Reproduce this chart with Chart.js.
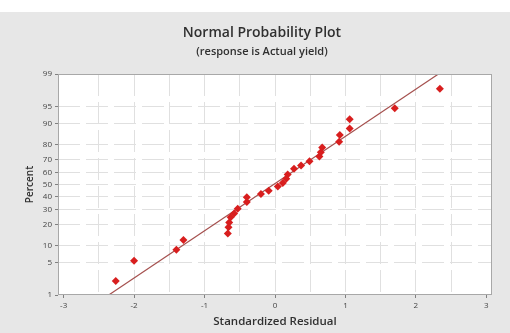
<!DOCTYPE html>
<html>
<head>
<meta charset="utf-8">
<script src="https://cdn.jsdelivr.net/npm/chart.js@4"></script>
<style>
  html, body { margin: 0; padding: 0; background: #ffffff; }
  #wrap { width: 510px; height: 333px; }
</style>
</head>
<body>
<div id="wrap"><canvas id="npp" width="510" height="333"></canvas></div>
<script>
// residuals (x) and plotted percent (y)
const residuals = [-2.26, -2.00, -1.40, -1.30, -0.67, -0.66, -0.65, -0.63, -0.58, -0.53,
                   -0.40, -0.40, -0.20, -0.09, 0.04, 0.11, 0.16, 0.18, 0.27, 0.37,
                   0.49, 0.63, 0.65, 0.67, 0.91, 0.92, 1.06, 1.06, 1.70, 2.34];
const percents = [2.1, 5.4, 8.5, 12.1, 15.1, 18.4, 21.2, 24.5, 27.1, 30.5,
                  35.6, 39.4, 42.1, 44.8, 48.4, 51.2, 54.8, 58.3, 62.9, 65.5,
                  68.8, 72.2, 75.2, 78.2, 81.6, 85.1, 88.1, 91.5, 94.6, 97.8];
// fitted reference line ends
const fitResiduals = [-2.36, 2.32];
const fitPercents = [1, 99];
// axis ticks
const percentTicks = [1, 5, 10, 20, 30, 40, 50, 60, 70, 80, 90, 95, 99];
const residualTicks = [-3, -2.5, -2, -1.5, -1, -0.5, 0, 0.5, 1, 1.5, 2, 2.5, 3];

// inverse normal cdf (Acklam), percent -> z
function zOf(pct) {
    const p = pct / 100;
    const a = [-39.69683028665376, 220.9460984245205, -275.9285104469687, 138.3577518672690, -30.66479806614716, 2.506628277459239];
    const b = [-54.47609879822406, 161.5858368580409, -155.6989798598866, 66.80131188771972, -13.28068155288572];
    const c = [-0.007784894002430293, -0.3223964580411365, -2.400758277161838, -2.549732539343734, 4.374664141464968, 2.938163982698783];
    const d = [0.007784695709041462, 0.3224671290700398, 2.445134137142996, 3.754408661907416];
    const pl = 0.02425;
    let q, r;
    if (p < pl) {
        q = Math.sqrt(-2 * Math.log(p));
        return (((((c[0] * q + c[1]) * q + c[2]) * q + c[3]) * q + c[4]) * q + c[5]) /
            ((((d[0] * q + d[1]) * q + d[2]) * q + d[3]) * q + 1);
    }
    if (p > 1 - pl) {
        q = Math.sqrt(-2 * Math.log(1 - p));
        return -(((((c[0] * q + c[1]) * q + c[2]) * q + c[3]) * q + c[4]) * q + c[5]) /
            ((((d[0] * q + d[1]) * q + d[2]) * q + d[3]) * q + 1);
    }
    q = p - 0.5;
    r = q * q;
    return (((((a[0] * r + a[1]) * r + a[2]) * r + a[3]) * r + a[4]) * r + a[5]) * q /
        (((((b[0] * r + b[1]) * r + b[2]) * r + b[3]) * r + b[4]) * r + 1);
}

const FONT = '"Open Sans", "DejaVu Sans", sans-serif';
const OUTER_BG = '#e7e7e7';
const GRID = '#e0e0e0';

// grey panel, white plot area, plot frame, titles
const framePlugin = {
    id: 'frame',
    beforeDraw(chart) {
        const { ctx, chartArea: a } = chart;
        ctx.save();
        ctx.fillStyle = '#ffffff';
        ctx.fillRect(0, 0, chart.width, chart.height);
        ctx.fillStyle = OUTER_BG;
        ctx.fillRect(0, 12, chart.width, chart.height - 12);
        ctx.fillStyle = '#ffffff';
        ctx.fillRect(a.left, a.top, a.right - a.left, a.bottom - a.top);
        ctx.restore();
    },
    afterDraw(chart) {
        const { ctx, chartArea: a } = chart;
        ctx.save();
        ctx.strokeStyle = '#a8a8a8';
        ctx.lineWidth = 1;
        ctx.strokeRect(Math.round(a.left) + 0.5, Math.round(a.top) + 0.5,
            Math.round(a.right - a.left) - 1, Math.round(a.bottom - a.top) - 1);
        ctx.fillStyle = '#303030';
        ctx.textAlign = 'center';
        ctx.textBaseline = 'middle';
        ctx.font = '600 14px ' + FONT;
        ctx.fillText('Normal Probability Plot', 262, 33);
        ctx.font = '600 11px ' + FONT;
        ctx.fillText('(response is Actual yield)', 262, 52);
        ctx.restore();
    }
};

new Chart(document.getElementById('npp'), {
    type: 'scatter',
    data: {
        datasets: [{
            label: 'Residuals',
            data: residuals.map((r, i) => ({ x: r, y: zOf(percents[i]) })),
            pointStyle: 'rectRot',
            pointRadius: 4,
            backgroundColor: '#d81e1e',
            borderColor: '#d81e1e',
            borderWidth: 0,
            order: 1
        }, {
            label: 'Fit',
            type: 'line',
            data: fitResiduals.map((r, i) => ({ x: r, y: zOf(fitPercents[i]) })),
            borderColor: '#a5504e',
            borderWidth: 1.2,
            pointRadius: 0,
            fill: false,
            order: 2
        }]
    },
    options: {
        responsive: false,
        animation: false,
        events: [],
        layout: {
            padding: { top: 74, right: 18, bottom: 0, left: 0 }
        },
        plugins: {
            legend: { display: false },
            tooltip: { enabled: false }
        },
        scales: {
            x: {
                type: 'linear',
                min: -3.08,
                max: 3.08,
                afterBuildTicks: (scale) => {
                    scale.ticks = residualTicks.map(v => ({ value: v }));
                },
                afterFit: (scale) => { scale.height = 38; },
                border: { display: false, dash: [22, 6] },
                grid: {
                    color: (c) => (c.tick && Math.abs(c.tick.value) === 3) ? 'rgba(0,0,0,0)' : GRID,
                    tickLength: 3,
                    tickColor: (c) => (c.tick && Number.isInteger(c.tick.value)) ? '#808080' : 'rgba(0,0,0,0)',
                    tickBorderDash: [0, 0]
                },
                ticks: {
                    padding: 3,
                    autoSkip: false,
                    maxRotation: 0,
                    color: '#444444',
                    font: { family: FONT, size: 8 },
                    callback: (value) => Number.isInteger(value) ? String(value) : ''
                },
                title: {
                    display: true,
                    text: 'Standardized Residual',
                    color: '#303030',
                    font: { family: FONT, size: 11.5, weight: '600' },
                    padding: { top: 0, bottom: 4 }
                }
            },
            y: {
                type: 'linear',
                min: zOf(1),
                max: zOf(99),
                afterBuildTicks: (scale) => {
                    scale.ticks = percentTicks.map(p => ({ value: zOf(p) }));
                },
                afterFit: (scale) => { scale.width = 58; },
                border: { display: false, dash: [22, 6] },
                grid: {
                    color: (c) => (c.index === 0 || c.index === percentTicks.length - 1) ? 'rgba(0,0,0,0)' : GRID,
                    tickLength: 3,
                    tickColor: '#808080',
                    tickBorderDash: [0, 0]
                },
                ticks: {
                    padding: 3,
                    autoSkip: false,
                    color: '#444444',
                    font: { family: FONT, size: 8 },
                    callback: (value, index) => String(percentTicks[index])
                },
                title: {
                    display: true,
                    text: 'Percent',
                    color: '#303030',
                    font: { family: FONT, size: 10, weight: '600' },
                    padding: { top: 24, bottom: 0 }
                }
            }
        }
    },
    plugins: [framePlugin]
});
</script>
</body>
</html>
